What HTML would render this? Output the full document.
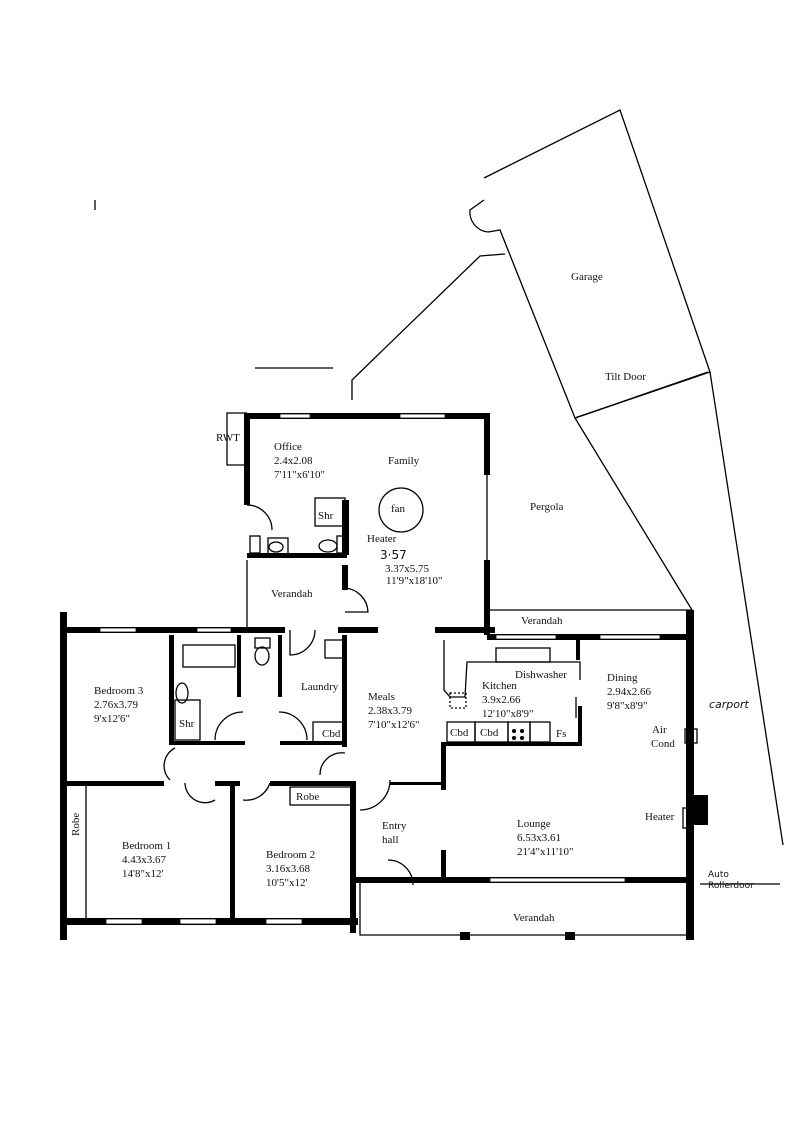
<!DOCTYPE html>
<html><head><style>
html,body{margin:0;padding:0;background:#fff}
svg{display:block}
text{font-family:"Liberation Serif",serif;font-size:11px;fill:#111}
.w{fill:#000}
.t{stroke:#000;stroke-width:1.3;fill:none}
</style></head><body>
<svg width="800" height="1132" viewBox="0 0 800 1132">
<g class="t">
<polyline points="484,178 620,110 710,372 575,418 500,230 488,232"/>
<line x1="575" y1="418" x2="708" y2="372"/>
<path d="M488,232 A20,20 0 0 1 470,210 L484,200"/>
<polyline points="352,400 352,380 480,256 505,254"/>
<line x1="575" y1="418" x2="692" y2="610"/>
<line x1="710" y1="372" x2="783" y2="845"/>
<line x1="255" y1="368" x2="333" y2="368"/>
<line x1="95" y1="200" x2="95" y2="210"/>
<line x1="700" y1="884" x2="780" y2="884"/>
<polyline points="247,413 227,413 227,465 247,465"/>
<polyline points="247,560 247,630"/>
<line x1="487" y1="610" x2="692" y2="610"/>
<line x1="487" y1="474" x2="487" y2="560"/>
<polyline points="360,880 360,935 692,935"/>
<path d="M247,505 A25,25 0 0 1 272,530"/>
<path d="M345,588 A25,25 0 0 1 368,612 L345,612"/>
<path d="M290,630 L290,655 A25,25 0 0 0 315,630"/>
<path d="M215,740 A28,28 0 0 1 243,712"/>
<path d="M279,712 A28,28 0 0 1 307,740"/>
<path d="M175,748 A20,20 0 0 0 170,780"/>
<path d="M185,783 A20,20 0 0 0 215,800"/>
<path d="M243,800 A25,25 0 0 0 270,783"/>
<path d="M320,775 A22,22 0 0 1 345,753"/>
<path d="M360,810 A30,30 0 0 0 390,780"/>
<path d="M388,860 A25,25 0 0 1 413,885"/>
<circle cx="401" cy="510" r="22"/>
<rect x="183" y="645" width="52" height="22"/>
<rect x="175" y="700" width="25" height="40"/>
<ellipse cx="182" cy="693" rx="6" ry="10"/>
<rect x="255" y="638" width="15" height="10"/>
<ellipse cx="262" cy="656" rx="7" ry="9"/>
<rect x="325" y="640" width="18" height="18"/>
<rect x="313" y="722" width="32" height="20"/>
<rect x="315" y="498" width="30" height="28"/>
<rect x="268" y="538" width="20" height="17"/>
<ellipse cx="276" cy="547" rx="7" ry="5"/>
<ellipse cx="328" cy="546" rx="9" ry="6"/>
<rect x="250" y="536" width="10" height="17"/>
<rect x="337" y="536" width="8" height="17"/>
<rect x="447" y="722" width="28" height="20"/>
<rect x="475" y="722" width="33" height="20"/>
<rect x="508" y="722" width="22" height="20"/>
<rect x="530" y="722" width="20" height="20"/>
<rect x="496" y="648" width="54" height="14"/>
<polyline points="444,640 444,690 450,697 465,697 467,662 580,662 580,680"/>
<rect x="450" y="693" width="16" height="15" stroke-dasharray="2,2"/>
<line x1="576" y1="697" x2="576" y2="718"/>
<rect x="685" y="729" width="12" height="14"/>
<rect x="683" y="808" width="8" height="20"/>
<line x1="687" y1="760" x2="687" y2="795"/>
<line x1="86" y1="783" x2="86" y2="922"/>
<rect x="290" y="787" width="62" height="18"/>
</g>
<g class="w">
<circle cx="514" cy="731" r="2"/><circle cx="522" cy="731" r="2"/><circle cx="514" cy="738" r="2"/><circle cx="522" cy="738" r="2"/>
<rect x="244" y="413" width="246" height="6"/>
<rect x="244" y="413" width="6" height="92"/>
<rect x="484" y="413" width="6" height="62"/>
<rect x="484" y="560" width="6" height="75"/>
<rect x="247" y="553" width="100" height="5"/>
<rect x="342" y="500" width="7" height="55"/>
<rect x="342" y="565" width="6" height="25"/>
<rect x="60" y="627" width="185" height="6"/>
<rect x="245" y="627" width="40" height="6"/>
<rect x="338" y="627" width="40" height="6"/>
<rect x="435" y="627" width="60" height="6"/>
<rect x="487" y="634" width="205" height="6"/>
<rect x="60" y="612" width="7" height="328"/>
<rect x="686" y="610" width="8" height="325"/>
<rect x="694" y="795" width="14" height="30"/>
<rect x="169" y="635" width="5" height="110"/>
<rect x="237" y="635" width="4" height="62"/>
<rect x="278" y="635" width="4" height="62"/>
<rect x="342" y="635" width="5" height="112"/>
<rect x="170" y="741" width="75" height="4"/>
<rect x="280" y="741" width="66" height="4"/>
<rect x="64" y="781" width="100" height="5"/>
<rect x="215" y="781" width="25" height="5"/>
<rect x="270" y="781" width="85" height="5"/>
<rect x="230" y="781" width="5" height="140"/>
<rect x="350" y="781" width="6" height="152"/>
<rect x="390" y="782" width="55" height="3"/>
<rect x="441" y="742" width="5" height="48"/>
<rect x="441" y="850" width="5" height="32"/>
<rect x="576" y="640" width="4" height="20"/>
<rect x="578" y="706" width="4" height="40"/>
<rect x="446" y="742" width="134" height="4"/>
<rect x="60" y="918" width="298" height="7"/>
<rect x="350" y="877" width="340" height="6"/>
<rect x="460" y="932" width="10" height="8"/><rect x="565" y="932" width="10" height="8"/><rect x="686" y="932" width="8" height="8"/>
</g>
<g fill="#fff" stroke="#000" stroke-width="0.8">
<rect x="100" y="628" width="36" height="4"/><rect x="197" y="628" width="34" height="4"/>
<rect x="106" y="919" width="36" height="5"/><rect x="180" y="919" width="36" height="5"/><rect x="266" y="919" width="36" height="5"/>
<rect x="280" y="414" width="30" height="4"/><rect x="400" y="414" width="45" height="4"/>
<rect x="496" y="635" width="60" height="4"/><rect x="600" y="635" width="60" height="4"/>
<rect x="490" y="878" width="135" height="4"/>
</g>
<text x="216" y="441">RWT</text>
<text x="274" y="450">Office</text><text x="274" y="464">2.4x2.08</text><text x="274" y="478">7'11"x6'10"</text>
<text x="388" y="464">Family</text>
<text x="391" y="512">fan</text>
<text x="318" y="519">Shr</text>
<text x="367" y="542">Heater</text>
<text x="380" y="559" style="font-family:'DejaVu Sans',sans-serif;font-size:12px">3·57</text>
<text x="385" y="572" fill="#666">3.37x5.75</text><text x="386" y="584">11'9"x18'10"</text>
<text x="271" y="597">Verandah</text>
<text x="571" y="280">Garage</text>
<text x="605" y="380">Tilt Door</text>
<text x="530" y="510">Pergola</text>
<text x="521" y="624">Verandah</text>
<text x="94" y="694">Bedroom 3</text><text x="94" y="708">2.76x3.79</text><text x="94" y="722">9'x12'6"</text>
<text x="179" y="727">Shr</text>
<text x="301" y="690">Laundry</text>
<text x="322" y="737">Cbd</text>
<text x="368" y="700">Meals</text><text x="368" y="714">2.38x3.79</text><text x="368" y="728">7'10"x12'6"</text>
<text x="515" y="678">Dishwasher</text>
<text x="482" y="689">Kitchen</text><text x="482" y="703">3.9x2.66</text><text x="482" y="717">12'10"x8'9"</text>
<text x="450" y="736">Cbd</text><text x="480" y="736">Cbd</text><text x="556" y="737">Fs</text>
<text x="607" y="681">Dining</text><text x="607" y="695">2.94x2.66</text><text x="607" y="709">9'8"x8'9"</text>
<text x="652" y="733">Air</text><text x="651" y="747">Cond</text>
<text x="709" y="708" style="font-family:'DejaVu Sans',sans-serif;font-style:italic">carport</text>
<text x="645" y="820">Heater</text>
<text x="296" y="800">Robe</text>
<text x="382" y="829">Entry</text><text x="382" y="843">hall</text>
<text x="517" y="827">Lounge</text><text x="517" y="841">6.53x3.61</text><text x="517" y="855">21'4"x11'10"</text>
<text x="122" y="849">Bedroom 1</text><text x="122" y="863">4.43x3.67</text><text x="122" y="877">14'8"x12'</text>
<text x="266" y="858">Bedroom 2</text><text x="266" y="872">3.16x3.68</text><text x="266" y="886">10'5"x12'</text>
<text x="79" y="836" transform="rotate(-90 79 836)">Robe</text>
<text x="513" y="921">Verandah</text>
<text x="708" y="877" style="font-family:'DejaVu Sans',sans-serif;font-size:9px">Auto</text>
<text x="708" y="888" style="font-family:'DejaVu Sans',sans-serif;font-size:9px">Rollerdoor</text>
</svg>
</body></html>
